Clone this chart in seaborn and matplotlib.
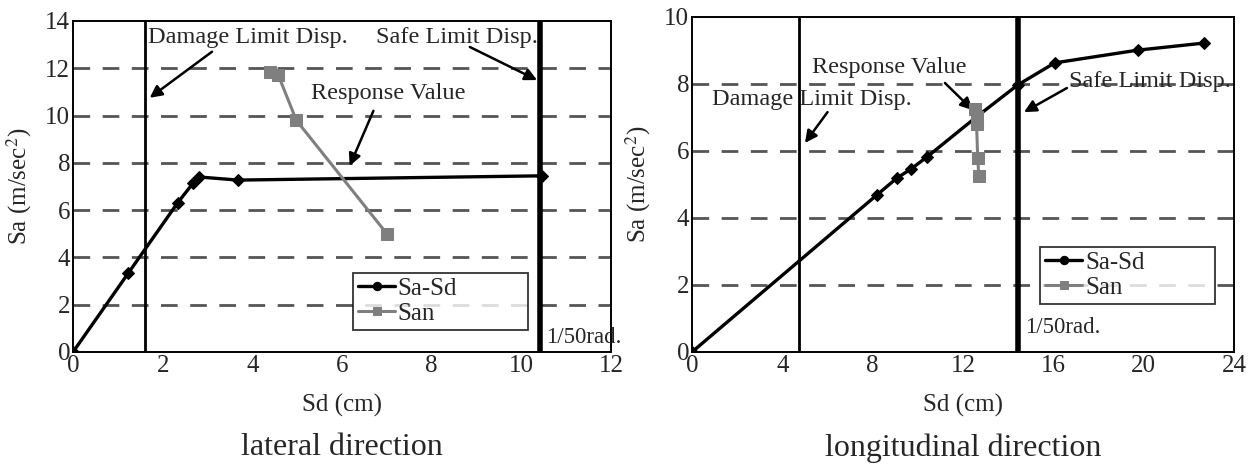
import matplotlib
matplotlib.use("Agg")
import matplotlib.pyplot as plt
import seaborn as sns
import pandas as pd
from matplotlib.ticker import MultipleLocator

# ---------------- data ----------------
# lateral direction
lat_sasd_x = [0.0, 1.23, 2.33, 2.68, 2.82, 3.68, 10.45]
lat_sasd_y = [0.0, 3.33, 6.30, 7.15, 7.40, 7.27, 7.45]
lat_san_x = [4.40, 4.58, 4.98, 7.00]
lat_san_y = [11.85, 11.70, 9.80, 5.00]
lat_damage = 1.6
lat_safe = 10.42

# longitudinal direction
lon_sasd_x = [0.0, 8.19, 9.07, 9.69, 10.40, 12.60, 14.42, 16.06, 19.73, 22.65]
lon_sasd_y = [0.0, 4.69, 5.19, 5.46, 5.82, 7.02, 7.97, 8.63, 9.01, 9.22]
lon_san_x = [12.55, 12.60, 12.60, 12.65, 12.70]
lon_san_y = [7.25, 7.00, 6.80, 5.80, 5.25]
lon_damage = 4.73
lon_safe = 14.42

sns.set_style("white")
plt.rcParams["font.family"] = ["Liberation Serif", "DejaVu Serif"]
plt.rcParams["mathtext.fontset"] = "stix"

fig = plt.figure(figsize=(12.55, 4.67), dpi=100)
ax1 = fig.add_axes([0.0582, 0.2463, 0.4287, 0.7088])
ax2 = fig.add_axes([0.5514, 0.2463, 0.4319, 0.7173])

FS = 18
AFS = 17.5
grid_color = "#555555"


def style_axis(ax, xmax, ymax, xmajor, xminor, ymajor):
    ax.set_xlim(0, xmax)
    ax.set_ylim(0, ymax)
    ax.xaxis.set_major_locator(MultipleLocator(xmajor))
    ax.xaxis.set_minor_locator(MultipleLocator(xminor))
    ax.yaxis.set_major_locator(MultipleLocator(ymajor))
    for s in ax.spines.values():
        s.set_color("black")
        s.set_linewidth(1.4)
        s.set_visible(True)
    ax.tick_params(axis="both", which="both", direction="in", labelsize=FS,
                   color="black", width=1.2)
    ax.tick_params(axis="x", which="major", length=5, pad=2)
    ax.tick_params(axis="x", which="minor", length=5)
    ax.tick_params(axis="y", which="major", length=0, pad=2)
    for yv in range(ymajor, ymax, ymajor):
        ax.axhline(yv, color=grid_color, lw=2.0, dashes=(6, 4.5), zorder=1)
    ax.set_xlabel("Sd (cm)", fontsize=FS, labelpad=12)
    ax.set_ylabel("Sa (m/sec$^{2}$)", fontsize=FS, labelpad=8)


def draw(ax, sx, sy, nx, ny, damage, safe):
    ax.axvline(damage, color="black", lw=2.0, zorder=2)
    ax.axvline(safe, color="black", lw=4.0, zorder=2)
    d1 = pd.DataFrame({"x": sx, "y": sy})
    d2 = pd.DataFrame({"x": nx, "y": ny})
    sns.lineplot(data=d1, x="x", y="y", ax=ax, sort=False, estimator=None,
                 color="black", lw=2.4, marker="D", markersize=6.5,
                 markeredgecolor="black", label="Sa-Sd", zorder=4)
    sns.lineplot(data=d2, x="x", y="y", ax=ax, sort=False, estimator=None,
                 color="#7f7f7f", lw=2.2, marker="s", markersize=8,
                 markeredgecolor="#7f7f7f", label="San", zorder=5)


def add_legend(ax, x0, y0, w, h):
    leg = ax.legend(loc="lower left", bbox_to_anchor=(x0, y0, w, h),
                    mode="expand", fontsize=FS, frameon=True, fancybox=False,
                    edgecolor="black", handlelength=1.5, handletextpad=0.1,
                    labelspacing=0.1, borderpad=0.2, borderaxespad=0)
    leg.get_frame().set_linewidth(1.3)
    for h_ in leg.legend_handles:
        h_.set_markersize(6)
    leg.legend_handles[0].set_marker("o")
    return leg


arrow = dict(arrowstyle="-|>", color="black", lw=1.8, mutation_scale=18,
             shrinkA=0, shrinkB=0)

# ---- left: lateral ----
draw(ax1, lat_sasd_x, lat_sasd_y, lat_san_x, lat_san_y, lat_damage, lat_safe)
style_axis(ax1, 12, 14, 2, 2, 2)
ax1.text(1.68, 13.3, "Damage Limit Disp.", fontsize=AFS, va="center", ha="left")
ax1.annotate("", xy=(1.71, 10.75), xytext=(3.1, 12.7), arrowprops=arrow)
ax1.text(6.75, 13.3, "Safe Limit Disp.", fontsize=AFS, va="center", ha="left")
ax1.annotate("", xy=(10.35, 11.5), xytext=(8.85, 12.9), arrowprops=arrow)
ax1.text(5.3, 10.95, "Response Value", fontsize=AFS, va="center", ha="left")
ax1.annotate("", xy=(6.17, 7.87), xytext=(6.7, 10.2), arrowprops=arrow)
ax1.text(10.55, 0.6, "1/50rad.", fontsize=AFS - 1, va="center", ha="left")
add_legend(ax1, 0.52, 0.066, 0.326, 0.158)
ax1.text(0.5, -0.29, "lateral direction", transform=ax1.transAxes,
         fontsize=23, ha="center", va="center")

# ---- right: longitudinal ----
draw(ax2, lon_sasd_x, lon_sasd_y, lon_san_x, lon_san_y, lon_damage, lon_safe)
style_axis(ax2, 24, 10, 4, 2, 2)
ax2.text(0.88, 7.55, "Damage Limit Disp.", fontsize=AFS, va="center", ha="left")
ax2.annotate("", xy=(5.0, 6.24), xytext=(6.0, 7.16), arrowprops=arrow)
ax2.text(5.3, 8.48, "Response Value", fontsize=AFS, va="center", ha="left")
ax2.annotate("", xy=(12.43, 7.22), xytext=(11.2, 8.03), arrowprops=arrow)
ax2.text(16.7, 8.06, "Safe Limit Disp.", fontsize=AFS, va="center", ha="left")
ax2.annotate("", xy=(14.7, 7.16), xytext=(16.6, 7.88), arrowprops=arrow)
ax2.text(14.75, 0.72, "1/50rad.", fontsize=AFS - 1, va="center", ha="left")
add_legend(ax2, 0.642, 0.143, 0.323, 0.164)
ax2.text(0.5, -0.287, "longitudinal direction", transform=ax2.transAxes,
         fontsize=23, ha="center", va="center")

fig.savefig("out.png", dpi=100, facecolor="white")
